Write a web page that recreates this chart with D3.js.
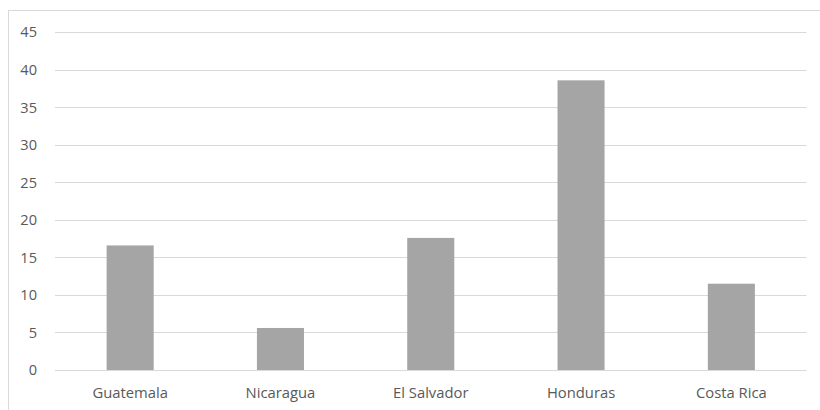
<!DOCTYPE html>
<html><head><meta charset="utf-8">
<script src="https://cdn.jsdelivr.net/npm/d3@7"></script>
<style>body{margin:0;background:#fff}svg{display:block}</style>
</head><body>
<script>
const categories = ["Guatemala","Nicaragua","El Salvador","Honduras","Costa Rica"];
const values = [16.6, 5.6, 17.6, 38.6, 11.5];
const yTicks = [0,5,10,15,20,25,30,35,40,45];

const W = 820, H = 410;
const svg = d3.select("body").append("svg").attr("width", W).attr("height", H);
svg.append("rect").attr("x", 8.5).attr("y", 10.5).attr("width", W).attr("height", H)
  .attr("fill", "#fff").attr("stroke", "#d9d9d9").attr("stroke-width", 1);

const x = d3.scaleBand().domain(categories).range([55, 806.5]).paddingInner(0.687).paddingOuter(0.3435);
const y = d3.scaleLinear().domain([0, 45]).range([370, 32.3]);

const font = "'Open Sans', sans-serif";
svg.append("g").selectAll("line").data(yTicks).join("line")
  .attr("x1", 55).attr("x2", 806.5)
  .attr("y1", d => Math.round(y(d)) + 0.5).attr("y2", d => Math.round(y(d)) + 0.5)
  .attr("stroke", "#d9d9d9").attr("stroke-width", 1);

svg.append("g").selectAll("rect").data(values).join("rect")
  .attr("x", (d, i) => x(categories[i]))
  .attr("width", x.bandwidth())
  .attr("y", d => y(d))
  .attr("height", d => y(0) - y(d))
  .attr("fill", "#a5a5a5");

const yAxis = d3.axisLeft(y).tickValues(yTicks).tickSize(0).tickPadding(0);
svg.append("g").attr("transform", "translate(37,0)").call(yAxis)
  .call(g => g.select(".domain").remove())
  .call(g => g.selectAll("text").attr("fill", "#595959").style("font-family", font).style("font-size", "14.6px"));

const xAxis = d3.axisBottom(x).tickSize(0).tickPadding(0);
svg.append("g").attr("transform", "translate(0,387)").call(xAxis)
  .call(g => g.select(".domain").remove())
  .call(g => g.selectAll("text").attr("fill", "#595959").style("font-family", font).style("font-size", "14.8px"));
</script>
</body></html>
